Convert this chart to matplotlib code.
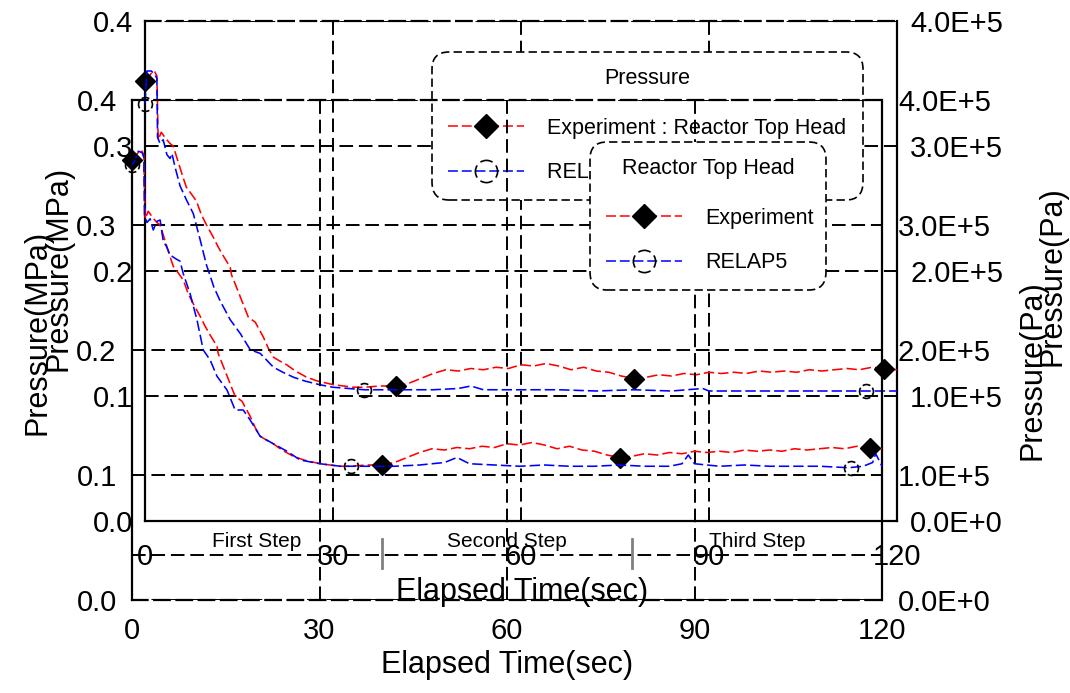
import numpy as np
import matplotlib
matplotlib.use("Agg")
import matplotlib.pyplot as plt
from matplotlib.path import Path
from matplotlib.lines import Line2D
from matplotlib.ticker import FuncFormatter

# ---------------- data ----------------
# Experiment (shared by both overlaid charts)
time_exp = [0, 0.5, 1.0, 1.5, 1.9, 2.1, 2.6, 3.3, 4.0, 4.5, 5.0, 5.5, 6.0, 6.6, 7.2,
            8.2, 9.0, 9.8, 10.9, 11.7, 12.5, 13.6, 13.8, 14.6, 15.7, 16.5, 17.6, 18.9,
            19.7, 20.5, 21.5, 22.6, 24.0, 25.8, 27.5, 30.1, 33.3, 35, 37.5, 40, 42, 44,
            46, 48, 50, 52, 54, 56, 58, 60, 62, 64, 66, 68, 70, 72, 74, 76, 78, 80, 82,
            84, 86, 88, 90, 92, 94, 96, 98, 100, 102, 104, 106, 108, 110, 112, 114, 116,
            118, 120]
p_exp = [0.352, 0.355, 0.358, 0.360, 0.356, 0.305, 0.311, 0.306, 0.302, 0.300, 0.292,
         0.284, 0.276, 0.267, 0.263, 0.256, 0.245, 0.237, 0.227, 0.219, 0.212, 0.203,
         0.197, 0.187, 0.173, 0.163, 0.159, 0.147, 0.138, 0.131, 0.128, 0.125, 0.120,
         0.115, 0.112, 0.109, 0.107, 0.107, 0.108, 0.108, 0.110, 0.114, 0.118, 0.121,
         0.120, 0.122, 0.121, 0.123, 0.122, 0.125, 0.124, 0.126, 0.124, 0.121, 0.123,
         0.120, 0.119, 0.116, 0.114, 0.115, 0.117, 0.116, 0.118, 0.117, 0.119, 0.118,
         0.119, 0.118, 0.120, 0.119, 0.120, 0.119, 0.121, 0.120, 0.121, 0.122, 0.121,
         0.123, 0.122, 0.121]

# RELAP5 in the upper ("Pressure") chart
time_relap_top = [0, 0.3, 1.0, 1.6, 1.9, 2.0, 2.4, 2.9, 3.5, 4.0, 4.3, 4.8, 5.6, 6.6,
                  7.7, 8.8, 9.8, 11.0, 12.0, 13.6, 15.2, 16.8, 18.4, 20.5, 22.0, 23.7,
                  25.5, 27.9, 30, 35, 40, 46, 50, 52, 54, 60, 66, 72, 78, 84, 89, 90, 96,
                  102, 108, 115, 120]
p_relap_top = [0.334, 0.360, 0.360, 0.357, 0.354, 0.307, 0.302, 0.305, 0.293, 0.290,
               0.294, 0.283, 0.268, 0.257, 0.246, 0.225, 0.205, 0.187, 0.176, 0.161,
               0.150, 0.137, 0.134, 0.123, 0.119, 0.115, 0.112, 0.109, 0.107, 0.105,
               0.105, 0.105, 0.106, 0.108, 0.105, 0.105, 0.105, 0.104, 0.105, 0.104,
               0.106, 0.104, 0.104, 0.104, 0.104, 0.104, 0.104]

# RELAP5 in the lower ("Reactor Top Head") chart
time_relap = [0, 0.5, 1.0, 1.6, 1.9, 2.0, 2.4, 2.9, 3.4, 4.0, 4.5, 5.0, 5.5, 6.1, 7.0,
              7.7, 8.2, 9.3, 10.4, 11.4, 12.5, 13.6, 15.2, 16.5, 17.8, 18.9, 20.5, 22.6,
              24.8, 26.9, 30.1, 33.3, 35, 38, 42, 46, 50, 52, 54, 58, 62, 66, 70, 74, 78,
              82, 86, 88, 89, 90, 94, 98, 102, 106, 110, 114, 115, 117, 118.5, 119, 119.5,
              120]
p_relap = [0.348, 0.352, 0.359, 0.358, 0.354, 0.307, 0.302, 0.305, 0.296, 0.303, 0.304,
           0.287, 0.283, 0.276, 0.273, 0.271, 0.261, 0.245, 0.224, 0.200, 0.192, 0.179,
           0.168, 0.152, 0.152, 0.144, 0.131, 0.125, 0.119, 0.112, 0.109, 0.107, 0.107,
           0.107, 0.107, 0.108, 0.110, 0.114, 0.109, 0.108, 0.107, 0.108, 0.107, 0.107,
           0.108, 0.107, 0.107, 0.109, 0.116, 0.109, 0.107, 0.108, 0.107, 0.107, 0.107,
           0.106, 0.106, 0.107, 0.110, 0.117, 0.112, 0.107]

exp_marker_times = [0, 40, 78, 118]
relap_marker_times = [0, 35, 115]

x_ticks = [0, 30, 60, 90, 120]
y_ticks_mpa = [0.0, 0.1, 0.2, 0.3, 0.4]

step_labels = ["First Step", "Second Step", "Third Step"]
step_label_times = [20, 60, 100]
step_label_level = 0.047
step_boundaries = [40, 80]
step_tick_span = (0.026, 0.049)
step_line_level = 0.036

# ---------------- styling ----------------
plt.rcParams['font.family'] = ['Liberation Sans', 'DejaVu Sans']

W, H = 1070, 693
fig = plt.figure(figsize=(W / 100, H / 100), dpi=100)


def px_rect(l, t, r, b):
    return [l / W, 1 - b / H, (r - l) / W, (b - t) / H]


GRID_LS = (0, (7, 3))
CURVE_LS = (0, (6.5, 2.5))


def sci_fmt(v, pos):
    if v == 0:
        return "0.0E+0"
    e = int(np.floor(np.log10(abs(v)) + 1e-9))
    m = v / 10 ** e
    return f"{m:.1f}E+{e}"


def dashed_circle():
    segs = [(a - 33, a + 33) for a in (0, 90, 180, 270)]
    return Path.make_compound_path(*[Path.arc(a, b) for a, b in segs])


DCIRC = dashed_circle()


def setup(ax, axr, lpad, xpad, rpad, bottom_dashed):
    ax.set_xlim(x_ticks[0], x_ticks[-1])
    ax.set_ylim(y_ticks_mpa[0], y_ticks_mpa[-1])
    ax.set_xticks(x_ticks)
    ax.set_yticks(y_ticks_mpa)
    ax.yaxis.set_major_formatter(FuncFormatter(lambda v, p: f"{v:.1f}"))
    ax.grid(True, color='k', ls=GRID_LS, lw=1.4)
    ax.tick_params(axis='y', length=0, labelsize=21, pad=lpad)
    ax.tick_params(axis='x', length=0, labelsize=21, pad=xpad)
    for s in ('left', 'right', 'bottom', 'top'):
        ax.spines[s].set_linewidth(1.6)
        ax.spines[s].set_color('k')
    ax.spines['top'].set_linestyle(GRID_LS)
    if bottom_dashed:
        ax.spines['bottom'].set_linestyle(GRID_LS)
    axr.set_ylim(y_ticks_mpa[0] * 1e6, y_ticks_mpa[-1] * 1e6)
    axr.set_yticks([v * 1e6 for v in y_ticks_mpa])
    axr.yaxis.set_major_formatter(FuncFormatter(sci_fmt))
    axr.tick_params(axis='y', length=0, labelsize=21, pad=rpad)
    for s in axr.spines.values():
        s.set_visible(False)


def draw_curves(ax, t_rel, p_rel):
    te = np.asarray(time_exp)
    tr = np.asarray(t_rel)
    ie = [int(np.argmin(np.abs(te - t))) for t in exp_marker_times]
    ir = [int(np.argmin(np.abs(tr - t))) for t in relap_marker_times]
    ax.plot(time_exp, p_exp, color='red', ls=CURVE_LS, lw=1.15, marker='D',
            markevery=ie, ms=10, mfc='k', mec='k', clip_on=False, zorder=3)
    ax.plot(t_rel, p_rel, color='blue', ls=CURVE_LS, lw=1.15, marker=DCIRC,
            markevery=ir, ms=10, mfc='none', mec='k', mew=1.2, clip_on=False, zorder=3)


def legend_handles():
    h1 = Line2D([], [], color='red', ls=CURVE_LS, lw=1.1, marker='D', ms=12.5,
                mfc='k', mec='k')
    h2 = Line2D([], [], color='blue', ls=CURVE_LS, lw=1.1, marker=DCIRC, ms=16,
                mfc='none', mec='k', mew=1.2)
    return [h1, h2]


def make_legend(ax, labels, title, l, t, r, b):
    leg = ax.legend(handles=legend_handles(), labels=labels, title=title,
                    loc='upper left',
                    bbox_to_anchor=(l / W, 1 - b / H, (r - l) / W, (b - t) / H),
                    bbox_transform=fig.transFigure, mode='expand', borderaxespad=0,
                    fontsize=15.5, title_fontsize=15.5, borderpad=0.76,
                    labelspacing=1.09, handlelength=3.5, handletextpad=1.1,
                    numpoints=1, fancybox=True, framealpha=1, edgecolor='k')
    # wider gap between the title and the entries, as in the reference
    leg._legend_box.sep = 20.5
    fr = leg.get_frame()
    fr.set_linestyle((0, (5, 2.5)))
    fr.set_linewidth(1.2)
    fr.set_boxstyle("round,pad=0,rounding_size=0.8")
    return leg


# ---------------- upper (offset) chart ----------------
ax1 = fig.add_axes(px_rect(145, 21, 897, 521))
ax1r = ax1.twinx()
setup(ax1, ax1r, lpad=8.5, xpad=16, rpad=9.5, bottom_dashed=False)
draw_curves(ax1, time_relap_top, p_relap_top)
ax1.set_xlabel("Elapsed Time(sec)", fontsize=22, va='center')
ax1.xaxis.set_label_coords(0.501, (521 - 592) / 500)
ax1.set_ylabel("Pressure(MPa)", fontsize=22, va='center')
ax1.yaxis.set_label_coords((58 - 145) / 752, (521 - 268) / 500)
ax1r.set_ylabel("Pressure(Pa)", fontsize=22, va='center', rotation=90)
ax1r.yaxis.set_label_coords((1052 - 145) / 752, (521 - 276) / 500)
make_legend(ax1, ["Experiment : Reactor Top Head", "RELAP5 : Reactor Top Head"],
            "Pressure", 432, 52, 863, 197)

# ---------------- lower chart ----------------
ax2 = fig.add_axes(px_rect(132, 100, 882, 600))
ax2.patch.set_visible(False)
ax2r = ax2.twinx()
setup(ax2, ax2r, lpad=11, xpad=12, rpad=11.5, bottom_dashed=True)
draw_curves(ax2, time_relap, p_relap)
ax2.axhline(step_line_level, color='k', ls=GRID_LS, lw=1.4, zorder=2)
for tb in step_boundaries:
    ax2.plot([tb, tb], list(step_tick_span), color='gray', lw=2, zorder=3)
for lab, tl in zip(step_labels, step_label_times):
    ax2.text(tl, step_label_level, lab, ha='center', va='center', fontsize=15)
ax2.set_xlabel("Elapsed Time(sec)", fontsize=22, va='center')
ax2.xaxis.set_label_coords((507 - 132) / 750, (600 - 665) / 500)
ax2.set_ylabel("Pressure(MPa)", fontsize=22, va='center')
ax2.yaxis.set_label_coords((38 - 132) / 750, (600 - 332) / 500)
ax2r.set_ylabel("Pressure(Pa)", fontsize=22, va='center', rotation=90)
ax2r.yaxis.set_label_coords((1032 - 132) / 750, (600 - 370) / 500)
make_legend(ax2, ["Experiment", "RELAP5"], "Reactor Top Head", 590, 142, 826, 287)

fig.savefig("out.png", dpi=100)
